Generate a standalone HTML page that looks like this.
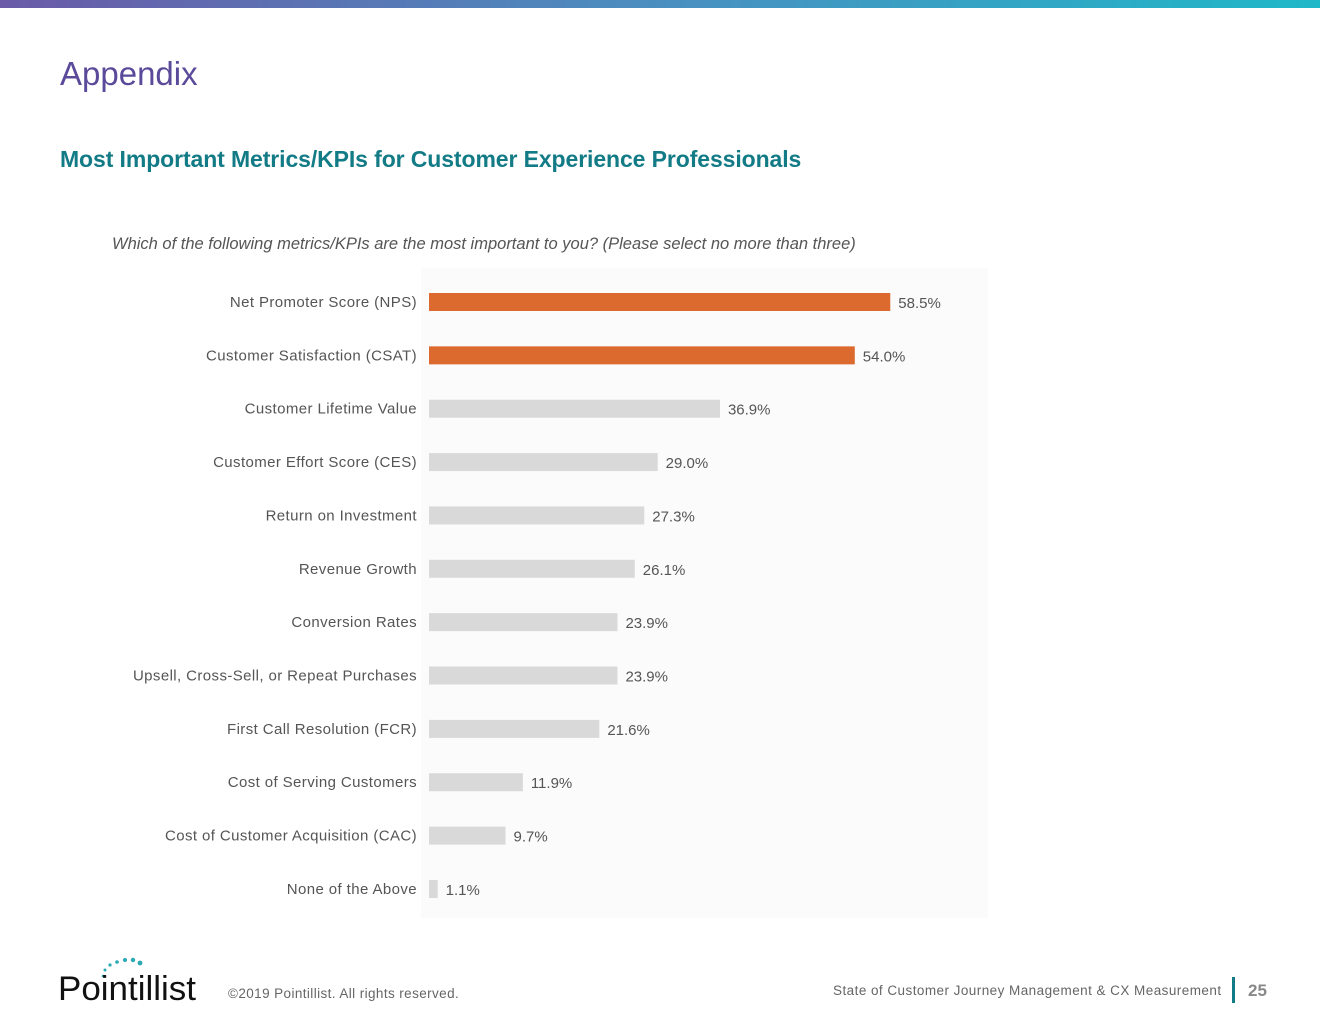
<!DOCTYPE html>
<html><head><meta charset="utf-8"><style>
body{margin:0;width:1320px;height:1020px;background:#fff;font-family:"Liberation Sans",sans-serif;position:relative;overflow:hidden}
.abs{position:absolute}
</style></head><body>
<div class="abs" style="left:0;top:0;width:1320px;height:8px;background:linear-gradient(90deg,#6a5aa8,#4a8fc0,#1fb8c8)"></div>
<div class="abs" style="left:60px;top:55px;font-size:33px;color:#5b4a9a">Appendix</div>
<div class="abs" style="left:60px;top:146px;font-size:23px;font-weight:bold;color:#127b86;letter-spacing:-0.1px">Most Important Metrics/KPIs for Customer Experience Professionals</div>
<div class="abs" style="left:112px;top:235px;font-size:16.5px;font-style:italic;color:#555">Which of the following metrics/KPIs are the most important to you? (Please select no more than three)</div>
<svg class="abs" style="left:0;top:0" width="1320" height="1020" id="chart"></svg>
<div class="abs" style="left:58px;top:956px;width:145px;height:48px">
<svg width="145" height="48"><g fill="#2aa8b4"><circle cx="47" cy="14" r="1.5"/><circle cx="52" cy="9" r="1.6"/><circle cx="59" cy="6" r="1.8"/><circle cx="67" cy="4" r="2"/><circle cx="75" cy="4" r="2.2"/><circle cx="82" cy="7" r="2.4"/><circle cx="45" cy="20" r="1.3"/></g>
<text x="0" y="44" font-family="Liberation Sans,sans-serif" font-size="34" fill="#111" textLength="138" lengthAdjust="spacingAndGlyphs">Pointillist</text></svg></div>
<div class="abs" style="left:228px;top:986px;font-size:13.5px;color:#666;letter-spacing:0.4px">©2019 Pointillist. All rights reserved.</div>
<div class="abs" style="left:833px;top:983px;font-size:13.5px;color:#666;letter-spacing:0.45px">State of Customer Journey Management &amp; CX Measurement</div>
<div class="abs" style="left:1232px;top:977px;width:3px;height:26px;background:#127b86"></div>
<div class="abs" style="left:1248px;top:981px;font-size:17px;font-weight:bold;color:#888">25</div>
<script>
const categories=["Net Promoter Score (NPS)","Customer Satisfaction (CSAT)","Customer Lifetime Value","Customer Effort Score (CES)","Return on Investment","Revenue Growth","Conversion Rates","Upsell, Cross-Sell, or Repeat Purchases","First Call Resolution (FCR)","Cost of Serving Customers","Cost of Customer Acquisition (CAC)","None of the Above"];
const values=[58.5,54.0,36.9,29.0,27.3,26.1,23.9,23.9,21.6,11.9,9.7,1.1];
const highlighted=[true,true,false,false,false,false,false,false,false,false,false,false];
const svg=document.getElementById('chart');const NS='http://www.w3.org/2000/svg';
const x0=429,scale=7.885,yTop=302,step=53.36,bh=18;
const xs=v=>x0+v*scale, ys=i=>yTop+i*step;
const bg=document.createElementNS(NS,'rect');
bg.setAttribute('x',421);bg.setAttribute('y',268);bg.setAttribute('width',567);bg.setAttribute('height',650);bg.setAttribute('fill','#fbfbfb');


svg.appendChild(bg);
categories.forEach((c,i)=>{
 const y=ys(i);
 const t=document.createElementNS(NS,'text');
 t.setAttribute('x',417);t.setAttribute('y',y+5);t.setAttribute('text-anchor','end');
 t.setAttribute('font-size','15');t.setAttribute('fill','#555');t.setAttribute('font-family','Liberation Sans,sans-serif');
 t.setAttribute('letter-spacing','0.4');
 t.textContent=c;
 
 
 svg.appendChild(t);
 const r=document.createElementNS(NS,'rect');
 r.setAttribute('x',x0);r.setAttribute('y',y-bh/2);r.setAttribute('width',xs(values[i])-x0);r.setAttribute('height',bh);
 r.setAttribute('fill',highlighted[i]?'#dc6a2e':'#d9d9d9');
 
 
 svg.appendChild(r);
 const v=document.createElementNS(NS,'text');
 v.setAttribute('x',xs(values[i])+8);v.setAttribute('y',y+6);
 v.setAttribute('font-size','15');v.setAttribute('fill','#555');v.setAttribute('font-family','Liberation Sans,sans-serif');
 v.textContent=values[i].toFixed(1)+'%';
 
 
 svg.appendChild(v);
});
</script>
</body></html>
